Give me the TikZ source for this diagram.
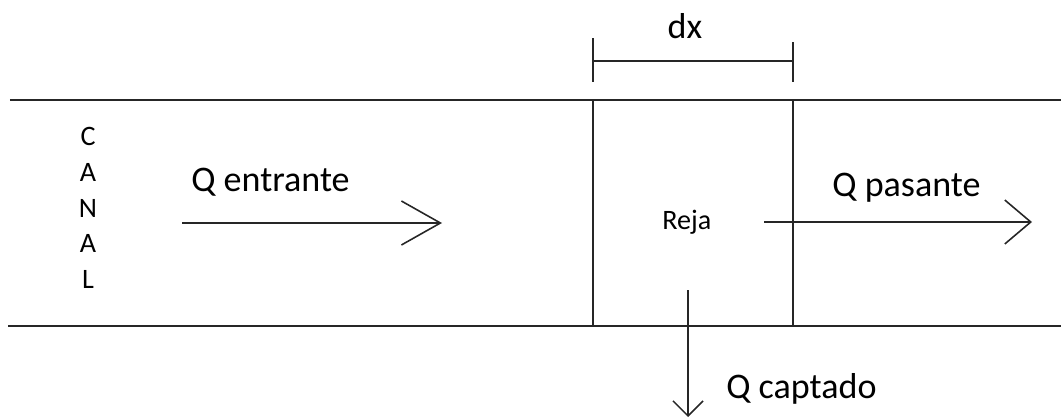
\documentclass[tikz,border=0pt]{standalone}
\usepackage{fontspec}
\setmainfont{Carlito}
\usetikzlibrary{arrows.meta}

\begin{document}
\begin{tikzpicture}[
    text=black,
    wall/.style={draw=black!85, line width=0.9pt},
    flowarrow/.style={draw=black!85, line width=0.9pt, -{Straight Barb[length=#1, width=8.8mm]}},
    flowlabel/.style={anchor=base west, inner sep=0pt, font=\fontsize{20.5}{24}\selectfont},
    smalllabel/.style={inner sep=0pt, font=\fontsize{16}{20.4}\selectfont}
]

\useasboundingbox (0, 0) rectangle (21.22, 8.34);

% ==================== CHANNEL ====================
\coordinate (topL) at (0.2, 6.34);
\coordinate (topR) at (21.22, 6.34);
\coordinate (botL) at (0.16, 1.82);
\coordinate (botR) at (21.22, 1.82);
\draw[wall] (topL) -- (topR);
\draw[wall] (botL) -- (botR);

% Reja (grid section)
\coordinate (rejaTL) at (11.86, 6.34);
\coordinate (rejaBL) at (11.86, 1.82);
\coordinate (rejaTR) at (15.86, 6.34);
\coordinate (rejaBR) at (15.86, 1.82);
\draw[wall] (rejaTL) -- (rejaBL);
\draw[wall] (rejaTR) -- (rejaBR);
\node[smalllabel, anchor=base west] (reja) at (13.24, 3.74) {Reja};

% ==================== DX MEASURE ====================
\coordinate (dxL) at (11.86, 7.12);
\coordinate (dxR) at (15.86, 7.12);
\draw[wall] (11.86, 6.70) -- (11.86, 7.58);
\draw[wall] (15.86, 6.70) -- (15.86, 7.50);
\draw[wall] (dxL) -- (dxR);
\node[smalllabel, font=\fontsize{20.5}{24}\selectfont] (dx) at (13.7, 7.82) {dx};

% ==================== LABELS ====================
\node[smalllabel, align=center] (canal) at (1.76, 4.18) {C\\A\\N\\A\\L};

% Q entrante
\coordinate (inStart) at (3.64, 3.88);
\coordinate (inEnd) at (8.84, 3.88);
\draw[flowarrow=7.8mm] (inStart) -- (inEnd);
\node[flowlabel] (qin) at (3.82, 4.50) {Q entrante};

% Q pasante
\coordinate (outStart) at (15.28, 3.90);
\coordinate (outEnd) at (20.64, 3.90);
\draw[flowarrow=5.2mm] (outStart) -- (outEnd);
\node[flowlabel] (qout) at (16.64, 4.40) {Q pasante};

% Q captado
\coordinate (capStart) at (13.76, 2.54);
\coordinate (capEnd) at (13.76, 0.0);
\draw[draw=black!85, line width=0.9pt, -{Straight Barb[length=3mm, width=6mm]}] (capStart) -- (capEnd);
\node[flowlabel] (qcap) at (14.52, 0.38) {Q captado};

\end{tikzpicture}
\end{document}
